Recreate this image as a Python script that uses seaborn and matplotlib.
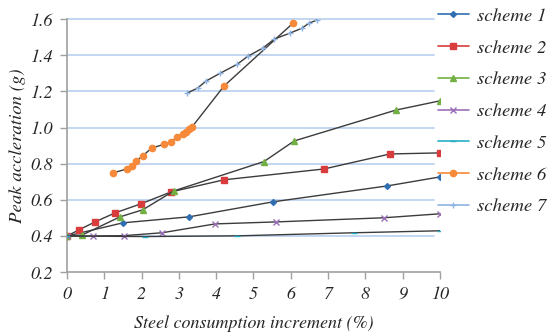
import matplotlib
matplotlib.use("Agg")
import matplotlib.pyplot as plt
import seaborn as sns
import pandas as pd
from matplotlib.lines import Line2D

sns.set_theme(style="white")
plt.rcParams['font.family'] = ['TeX Gyre Termes', 'STIXGeneral', 'DejaVu Serif']

# ---- data ----
s1_x = [0, 1.5, 3.27, 5.52, 8.58, 10]
s1_y = [0.40, 0.473, 0.506, 0.589, 0.677, 0.727]
s2_x = [0, 0.32, 0.75, 1.29, 1.98, 2.79, 4.21, 6.89, 8.66, 10]
s2_y = [0.40, 0.434, 0.478, 0.528, 0.578, 0.644, 0.711, 0.771, 0.854, 0.86]
s3_x = [0, 0.4, 1.42, 2.03, 2.87, 5.28, 6.09, 8.82, 10]
s3_y = [0.40, 0.405, 0.506, 0.545, 0.650, 0.812, 0.926, 1.097, 1.148]
s4_x = [0, 0.7, 1.53, 2.55, 3.97, 5.6, 8.5, 10]
s4_y = [0.40, 0.40, 0.402, 0.418, 0.467, 0.478, 0.501, 0.523]
s5_x = [0, 2.1, 4.57, 7.7, 10]
s5_y = [0.40, 0.397, 0.401, 0.418, 0.429]
s6_x = [1.23, 1.6, 1.74, 1.85, 2.03, 2.27, 2.6, 2.78, 2.95, 3.11, 3.2, 3.27, 3.35, 4.21, 6.06]
s6_y = [0.749, 0.771, 0.788, 0.815, 0.843, 0.887, 0.907, 0.92, 0.946, 0.965, 0.978, 0.99, 1.003, 1.23, 1.578]
s7_x = [3.22, 3.51, 3.73, 4.1, 4.56, 4.85, 5.25, 5.56, 5.98, 6.3, 6.49, 6.7]
s7_y = [1.19, 1.22, 1.258, 1.30, 1.35, 1.395, 1.44, 1.49, 1.523, 1.55, 1.578, 1.595]

names = ["scheme 1", "scheme 2", "scheme 3", "scheme 4", "scheme 5", "scheme 6", "scheme 7"]
xs = [s1_x, s2_x, s3_x, s4_x, s5_x, s6_x, s7_x]
ys = [s1_y, s2_y, s3_y, s4_y, s5_y, s6_y, s7_y]
colors = ["#2f6fb0", "#d93c3c", "#72b043", "#9b6fb8", "#27aec4", "#f7893a", "#8fb4e3"]
markers = ["D", "s", "^", "x", "_", "o", "+"]
msizes = [3, 5, 4.5, 5, 4, 4.5, 5]

x_ticks = [0, 1, 2, 3, 4, 5, 6, 7, 8, 9, 10]
y_ticks = [0.2, 0.4, 0.6, 0.8, 1.0, 1.2, 1.4, 1.6]

fig = plt.figure(figsize=(5.5, 3.36), dpi=100)
ax = fig.add_axes([0.1218, 0.19, 0.6782, 0.753])

# gridlines
for v in y_ticks[1:]:
    ax.plot([0, 9.85], [v, v], color="#b9d0ee", lw=1.2, zorder=0, clip_on=False)

for name, x, y, c, m, ms in zip(names, xs, ys, colors, markers, msizes):
    df = pd.DataFrame({"x": x, "y": y})
    sns.lineplot(data=df, x="x", y="y", ax=ax, color="#3c3c3c", lw=1.0,
                 marker=m, markersize=ms, markerfacecolor=c, markeredgecolor=c,
                 markeredgewidth=1.0, sort=False, estimator=None, legend=False,
                 zorder=3)

ax.set_xlim(0, 10)
ax.set_ylim(0.2, 1.6)
ax.set_xticks(x_ticks)
ax.set_yticks(y_ticks)
ax.set_xticklabels([str(t) for t in x_ticks], fontsize=13, fontstyle="italic")
ax.set_yticklabels([f"{t:.1f}" for t in y_ticks], fontsize=13, fontstyle="italic")
ax.tick_params(axis="both", direction="out", length=5, width=1, color="#a0a0a0",
               left=True, bottom=True, pad=5)
for s in ["top", "right"]:
    ax.spines[s].set_visible(False)
for s in ["left", "bottom"]:
    ax.spines[s].set_color("#a0a0a0")
    ax.spines[s].set_linewidth(1.2)

ax.set_xlabel("Steel consumption increment (%)", fontsize=13, fontstyle="italic", labelpad=9)
ax.set_ylabel("Peak accleration (g)", fontsize=13.5, fontstyle="italic", labelpad=3)

handles = [Line2D([0], [0], color=c, lw=1.2, marker=m, markersize=ms,
                  markerfacecolor=c, markeredgecolor=c)
           for c, m, ms in zip(colors, markers, msizes)]
leg = fig.legend(handles, names, loc="upper left", bbox_to_anchor=(0.796, 0.977),
                 frameon=False, prop={"style": "italic", "size": 13.5},
                 handlelength=1.65, labelspacing=0.78, handletextpad=0.45,
                 borderpad=0, borderaxespad=0)

fig.savefig("out.png", dpi=100)
